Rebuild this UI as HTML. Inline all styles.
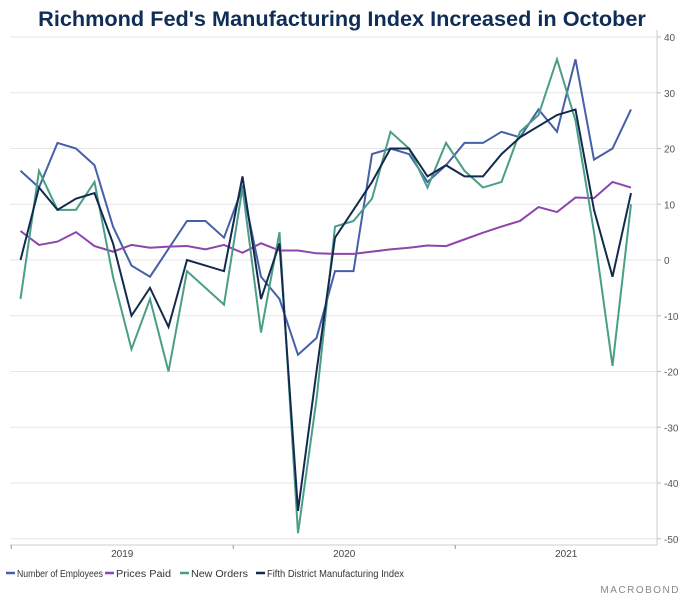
<!DOCTYPE html>
<html><head><meta charset="utf-8"><style>
body{margin:0;background:#fff;font-family:"Liberation Sans",Arial,sans-serif;}
svg{display:block}
</style></head><body>
<svg id="chart" width="685" height="600">
<text x="342" y="26" text-anchor="middle" font-size="21.7" font-weight="bold" fill="#0f2d57">Richmond Fed's Manufacturing Index Increased in October</text>
<g id="grid"></g><g id="series"></g><g id="axes"></g><g id="legend"></g>
<text x="680" y="593" text-anchor="end" font-size="10" fill="#888" letter-spacing="1.5">MACROBOND</text>
</svg>
<script>
const employees=[16,13,21,20,17,6,-1,-3,2,7,7,4,13,-3,-7,-17,-14,-2,-2,19,20,19,14,17,21,21,23,22,27,23,36,18,20,27];
const pricesPaid=[5.2,2.7,3.3,5,2.5,1.5,2.7,2.2,2.4,2.5,1.9,2.7,1.3,3,1.7,1.7,1.2,1.1,1.1,1.5,1.9,2.2,2.6,2.5,3.7,4.9,6,7,9.5,8.6,11.2,11.1,14,13];
const newOrders=[-7,16,9,9,14,-3,-16,-7,-20,-2,-5,-8,13,-13,5,-49,-25,6,7,11,23,20,13,21,16,13,14,23,26,36,25,5,-19,10];
const fifthDistrict=[0,13,9,11,12,3,-10,-5,-12,0,-1,-2,15,-7,3,-45,-20,4,9,14,20,20,15,17,15,15,19,22,24,26,27,9,-3,12];
const yTicks=[40,30,20,10,0,-10,-20,-30,-40,-50];
const years=["2019","2020","2021"];
const seriesNames=["Number of Employees","Prices Paid","New Orders","Fifth District Manufacturing Index"];
const colors=["#4560a8","#8e44ad","#4a9e87","#132a4e"];
const NS="http://www.w3.org/2000/svg";
function el(tag,attrs,parent,txt){const e=document.createElementNS(NS,tag);for(const k in attrs)e.setAttribute(k,attrs[k]);if(txt!==undefined)e.textContent=txt;parent.appendChild(e);return e;}
const y=v=>260-v*5.575;
const x=i=>20.5+i*18.5;
const grid=document.getElementById('grid'),axes=document.getElementById('axes'),ser=document.getElementById('series'),leg=document.getElementById('legend');
yTicks.forEach(t=>{
 const g=el('line',{x1:10,x2:657,y1:y(t),y2:y(t),stroke:'#e6e6e6','stroke-width':1},grid);
 
 
 el('line',{x1:657,x2:661,y1:y(t),y2:y(t),stroke:'#bbb'},axes);
 const lb=el('text',{x:664,y:y(t)+4,'font-size':10,fill:'#555'},axes,String(t));
 
 
});
el('line',{x1:657,x2:657,y1:30,y2:545,stroke:'#ccc'},axes);
el('line',{x1:10,x2:657,y1:545,y2:545,stroke:'#ccc'},axes);
years.forEach((yr,k)=>{
 const x0=x(0)-9.25+k*12*18.5;
 el('line',{x1:x0,x2:x0,y1:545,y2:549,stroke:'#999'},axes);
 const t=el('text',{x:x0+6*18.5,y:557,'font-size':10,fill:'#444','text-anchor':'middle'},axes,yr);
 
 
});
[employees,pricesPaid,newOrders,fifthDistrict].forEach((d,s)=>{
 const p=el('polyline',{points:d.map((v,i)=>x(i)+','+y(v)).join(' '),fill:'none',stroke:colors[s],'stroke-width':2,'stroke-linejoin':'miter'},ser);
 
 
});
const starts=[6,105,180,256];
const tlen=[86,55,57,137];
seriesNames.forEach((n,s)=>{
 const lx=starts[s];
 const g=el('g',{},leg);
 
 
 el('line',{x1:lx,x2:lx+9,y1:573,y2:573,stroke:colors[s],'stroke-width':2.5},g);
 el('text',{x:lx+11,y:577,'font-size':10,fill:'#333',textLength:tlen[s],lengthAdjust:'spacingAndGlyphs'},g,n);
});
</script>
</body></html>
